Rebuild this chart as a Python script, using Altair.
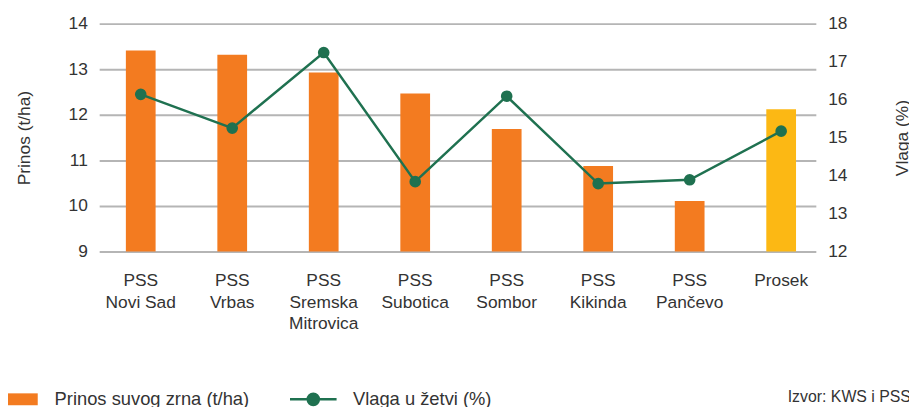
import altair as alt
import pandas as pd

locations = ["PSS\nNovi Sad", "PSS\nVrbas", "PSS\nSremska\nMitrovica", "PSS\nSubotica",
             "PSS\nSombor", "PSS\nKikinda", "PSS\nPančevo", "Prosek"]
yield_t_ha = [13.41, 13.32, 12.93, 12.47, 11.69, 10.88, 10.11, 12.12]
moisture_pct = [16.14, 15.25, 17.24, 13.84, 16.09, 13.79, 13.89, 15.17]
left_ticks = [9, 10, 11, 12, 13, 14]
right_ticks = [12, 13, 14, 15, 16, 17, 18]
bar_name = "Prinos suvog zrna (t/ha)"
line_name = "Vlaga u žetvi (%)"

FONT = "Liberation Sans"
TXT = "#333333"
ORANGE = "#F37B20"
GOLD = "#FCB814"
GREEN = "#1F7150"

df = pd.DataFrame({"loc": locations, "yield": yield_t_ha, "moist": moisture_pct})
df["bar_series"] = bar_name
df["line_series"] = line_name

x = alt.X("loc:N", sort=locations,
          scale=alt.Scale(paddingInner=0.675, paddingOuter=0.254, align=0.574),
          axis=alt.Axis(title=None, labelAngle=0, labelExpr="split(datum.label, '\\n')",
                        labelFont=FONT, labelFontSize=17.5, labelColor=TXT, labelLineHeight=22,
                        labelPadding=20, ticks=False, domain=False, grid=False))

bars = alt.Chart(df).mark_bar().encode(
    x=x,
    y=alt.Y("yield:Q", scale=alt.Scale(domain=[9, 14], zero=False, nice=False),
            axis=alt.Axis(title="Prinos (t/ha)", values=left_ticks, grid=True,
                          gridColor="#B5B5B5", gridWidth=2, domain=False, ticks=False,
                          labelPadding=12, labelFont=FONT, labelFontSize=17.5, labelColor=TXT,
                          titleFont=FONT, titleFontSize=17.5, titleFontWeight="normal",
                          titleColor=TXT, titlePadding=35)),
    y2=alt.datum(9),
    color=alt.condition(alt.datum.loc == "Prosek", alt.value(GOLD),
                        alt.Color("bar_series:N", scale=alt.Scale(range=[ORANGE]),
                                  legend=alt.Legend(title=None, orient="none", legendX=-92, legendY=364,
                                                    symbolType="M-1,-0.4H1V0.4H-1Z", symbolSize=900,
                                                    symbolStrokeWidth=0, labelFont=FONT,
                                                    labelFontSize=18.5, labelColor=TXT, labelLimit=400,
                                                    labelOffset=17, padding=0)))
)

line = alt.Chart(df).mark_line(strokeWidth=2.5,
                               point=alt.OverlayMarkDef(filled=True, size=95, color=GREEN)).encode(
    x=x,
    y=alt.Y("moist:Q", scale=alt.Scale(domain=[12, 18], zero=False, nice=False),
            axis=alt.Axis(title="Vlaga (%)", orient="right", values=right_ticks, grid=False,
                          domain=False, ticks=False, labelPadding=12, labelFont=FONT,
                          labelFontSize=17.5, labelColor=TXT, titleFont=FONT, titleFontSize=17.5,
                          titleFontWeight="normal", titleColor=TXT, titleAngle=270, titlePadding=65)),
    stroke=alt.Stroke("line_series:N", scale=alt.Scale(range=[GREEN]),
                      legend=alt.Legend(title=None, orient="none", legendX=191, legendY=354,
                                        symbolType="M-1,0H1M0.24,0A0.24,0.24,0,1,1,-0.24,0A0.24,0.24,0,1,1,0.24,0",
                                        symbolSize=2209, symbolStrokeWidth=2.5,
                                        symbolFillColor=GREEN, labelFont=FONT, labelLimit=400,
                                        labelFontSize=18.5, labelColor=TXT, labelOffset=15, padding=0))
)

chart = alt.layer(bars, line).resolve_scale(y="independent", color="independent").properties(
    width=723, height=230,
    autosize=alt.AutoSizeParams(type="none"),
    padding={"left": 92, "top": 14, "right": 94, "bottom": 155},
    title=alt.TitleParams("Izvor: KWS i PSS", orient="bottom", anchor="end", font=FONT,
                          fontSize=16, fontWeight="normal", color=TXT, dx=0, dy=-25),
).configure_view(stroke=None)

chart.save("out.html", embed_options={"renderer": "svg", "actions": False})
